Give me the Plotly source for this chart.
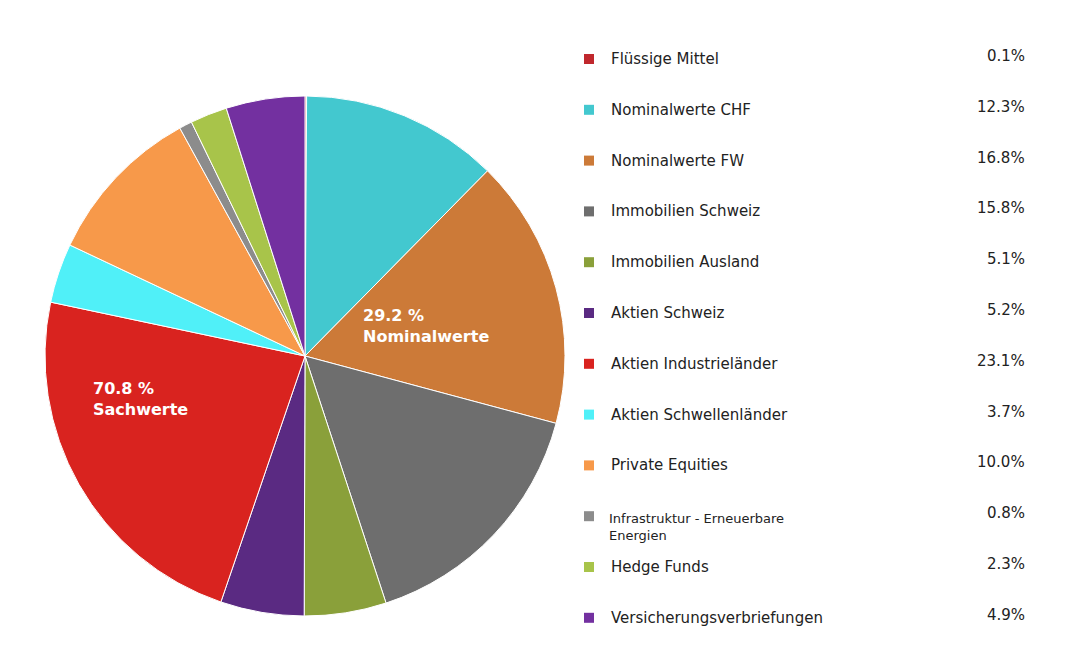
import plotly.graph_objects as go

labels = ["Flüssige Mittel", "Nominalwerte CHF", "Nominalwerte FW", "Immobilien Schweiz",
          "Immobilien Ausland", "Aktien Schweiz", "Aktien Industrieländer", "Aktien Schwellenländer",
          "Private Equities", "Infrastruktur - Erneuerbare<br>Energien", "Hedge Funds", "Versicherungsverbriefungen"]
values = [0.1, 12.3, 16.8, 15.8, 5.1, 5.2, 23.1, 3.7, 10.0, 0.8, 2.3, 4.9]
colors = ["#C0282D", "#43C8CF", "#CC7A38", "#6E6E6E", "#8AA03A", "#5A2A82", "#D9231F",
          "#50F0F8", "#F7994A", "#8C8C8C", "#A8C44A", "#7330A0"]
groups = [("29.2 %<br>Nominalwerte", 353, 318), ("70.8 %<br>Sachwerte", 83, 391)]

W, H = 1067, 649
fig = go.Figure(go.Pie(labels=labels, values=values, sort=False, direction="clockwise", rotation=0,
                       marker=dict(colors=colors, line=dict(color="white", width=1)),
                       textinfo="none", hoverinfo="label+percent",
                       domain=dict(x=[37/W, 557/W], y=[1-608/H, 1-88/H])))

ann = []
shapes = []
font = "DejaVu Sans"
for i, (lab, v, c) in enumerate(zip(labels, values, colors)):
    yc = 51 + i * 50.8
    shapes.append(dict(type="rect", xref="paper", yref="paper",
                       x0=576/W, x1=586/W, y0=1-(yc+5)/H, y1=1-(yc-5)/H,
                       fillcolor=c, line=dict(width=0)))
    two = "<br>" in lab
    ann.append(dict(x=(599 if two else 601)/W, y=1-(yc+ (11 if two else 0))/H, xref="paper", yref="paper",
                    text=lab, showarrow=False, xanchor="left", yanchor="middle", align="left",
                    font=dict(family=font, size=13 if two else 15, color="#222")))
    ann.append(dict(x=1019/W, y=1-(yc-3)/H, xref="paper", yref="paper",
                    text=f"{v:.1f}%", showarrow=False, xanchor="right", yanchor="middle",
                    font=dict(family=font, size=15, color="#222")))
for t, x, y in groups:
    ann.append(dict(x=x/W, y=1-y/H, xref="paper", yref="paper", text=f"<b>{t}</b>",
                    showarrow=False, xanchor="left", yanchor="middle", align="left",
                    font=dict(family=font, size=16, color="white")))

fig.update_layout(width=W, height=H, margin=dict(l=0, r=0, t=0, b=0), showlegend=False,
                  paper_bgcolor="white", annotations=ann, shapes=shapes)
fig.write_html("out.html")
